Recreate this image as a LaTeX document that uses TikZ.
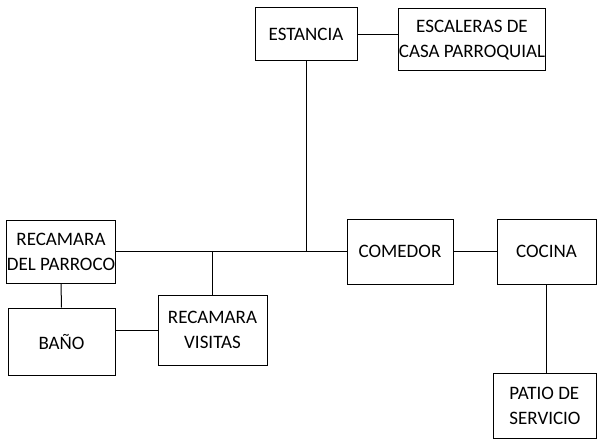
\documentclass[tikz,border=0pt]{standalone}
\usepackage{fontspec}
\setmainfont{Carlito}
\usepackage{tikz}

\begin{document}
\begin{tikzpicture}[
  x=1pt, y=1pt,
  line width=1pt,
  room/.style={draw,rectangle,inner sep=0,align=center,font=\fontsize{19}{25}\selectfont}
  ]
  \useasboundingbox (0,0) rectangle (597,440);

  % cuartos
  \node [room,minimum width=102,minimum height=53] (estancia) at (306, 405.5) {ESTANCIA};
  \node [room,minimum width=146,minimum height=62] (escaleras) at (472, 400) {ESCALERAS DE\\CASA PARROQUIAL};
  \node [room,minimum width=106,minimum height=63] (recamara) at (61, 188.5) {RECAMARA\\DEL PARROCO};
  \node [room,minimum width=106,minimum height=65] (comedor) at (400, 188.5) {COMEDOR};
  \node [room,minimum width=99,minimum height=65] (cocina) at (546.5, 188.5) {COCINA};
  \node [room,minimum width=107,minimum height=67] (bano) at (61.5, 98.5) {BAÑO};
  \node [room,minimum width=109,minimum height=70] (visitas) at (212.5, 110) {RECAMARA\\VISITAS};
  \node [room,minimum width=103,minimum height=65,align=left] (patio) at (545, 34.5) {PATIO DE\\SERVICIO};

  % uniones
  \draw (estancia.east) -- (estancia.east -| escaleras.west);
  \draw (recamara.east) -- (comedor.west);
  \draw (estancia.south) -- (estancia.south |- recamara.east);
  \draw (visitas.north) -- (visitas.north |- recamara.east);
  \draw (comedor.east) -- (cocina.west);
  \draw (recamara.south) -- (bano.north);
  \draw (visitas.west) -- (visitas.west -| bano.east);
  \draw (cocina.south) -- (cocina.south |- patio.north);

\end{tikzpicture}
\end{document}
